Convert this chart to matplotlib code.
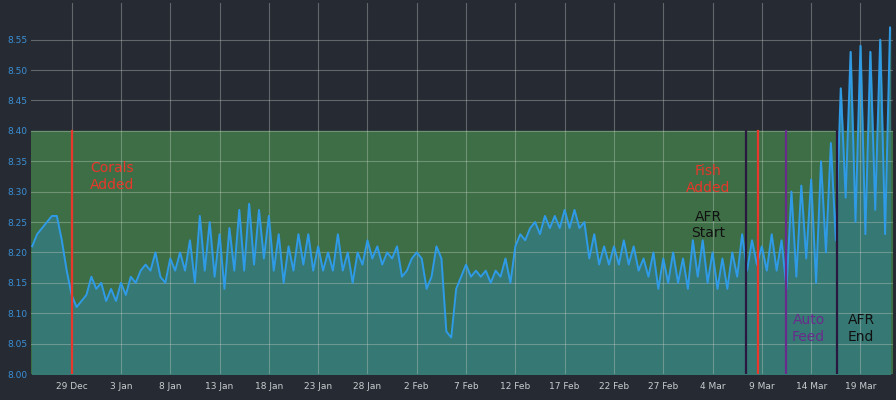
import numpy as np
import matplotlib
matplotlib.use("Agg")
import matplotlib.pyplot as plt
import matplotlib.dates as mdates
from datetime import datetime, timedelta

# pH readings, two per day starting 25 Dec
start = datetime(2018, 12, 25)
ph = [8.21, 8.23, 8.24, 8.25, 8.26, 8.26, 8.22, 8.17, 8.13, 8.11,
      8.12, 8.13, 8.16, 8.14, 8.15, 8.12, 8.14, 8.12, 8.15, 8.13,
      8.16, 8.15, 8.17, 8.18, 8.17, 8.20, 8.16, 8.15, 8.19, 8.17,
      8.20, 8.17, 8.22, 8.15, 8.26, 8.17, 8.25, 8.16, 8.23, 8.14,
      8.24, 8.17, 8.27, 8.17, 8.28, 8.18, 8.27, 8.19, 8.26, 8.17,
      8.23, 8.15, 8.21, 8.17, 8.23, 8.18, 8.23, 8.17, 8.21, 8.17,
      8.20, 8.17, 8.23, 8.17, 8.20, 8.15, 8.20, 8.18, 8.22, 8.19,
      8.21, 8.18, 8.20, 8.19, 8.21, 8.16, 8.17, 8.19, 8.20, 8.19,
      8.14, 8.16, 8.21, 8.19, 8.07, 8.06, 8.14, 8.16, 8.18, 8.16,
      8.17, 8.16, 8.17, 8.15, 8.17, 8.16, 8.19, 8.15, 8.21, 8.23,
      8.22, 8.24, 8.25, 8.23, 8.26, 8.24, 8.26, 8.24, 8.27, 8.24,
      8.27, 8.24, 8.25, 8.19, 8.23, 8.18, 8.21, 8.18, 8.21, 8.18,
      8.22, 8.18, 8.21, 8.17, 8.19, 8.16, 8.20, 8.14, 8.19, 8.15,
      8.20, 8.15, 8.19, 8.14, 8.22, 8.16, 8.22, 8.15, 8.20, 8.14,
      8.19, 8.14, 8.20, 8.16, 8.23, 8.17, 8.22, 8.18, 8.21, 8.17,
      8.23, 8.17, 8.22, 8.14, 8.30, 8.16, 8.31, 8.19, 8.32, 8.15,
      8.35, 8.20, 8.38, 8.22, 8.47, 8.29, 8.53, 8.25, 8.54, 8.23,
      8.53, 8.27, 8.55, 8.23, 8.57]
dates = [start + timedelta(hours=12 * i) for i in range(len(ph))]

events = [(datetime(2018, 12, 29), "#e8372b"),
          (datetime(2019, 3, 7, 10), "#2a1840"),
          (datetime(2019, 3, 8, 14), "#e8372b"),
          (datetime(2019, 3, 11, 10), "#6a2c8c"),
          (datetime(2019, 3, 16, 16), "#2a1840")]
labels = [("Corals\nAdded", "#e8372b", datetime(2019, 1, 2, 2), 8.325),
          ("Fish\nAdded", "#e8372b", datetime(2019, 3, 3, 14), 8.32),
          ("AFR\nStart", "#111111", datetime(2019, 3, 3, 14), 8.245),
          ("Auto\nFeed", "#6a2c8c", datetime(2019, 3, 13, 18), 8.075),
          ("AFR\nEnd", "#111111", datetime(2019, 3, 19, 2), 8.075)]

bg = "#262b33"
fig = plt.figure(figsize=(8.96, 4), dpi=100, facecolor=bg)
ax = fig.add_axes([0.035, 0.065, 0.962, 0.927], facecolor=bg)

x0, x1 = datetime(2018, 12, 24, 22), datetime(2019, 3, 22, 8)
ax.axhspan(8.0, 8.40, color="#3d6e45", zorder=0)
ax.fill_between(dates, 8.0, ph, color="#367873", zorder=1)
ax.plot(dates, ph, color="#2f9ae6", lw=1.4, zorder=3)

for d, c in events:
    ax.plot([d, d], [8.0, 8.40], color=c, lw=1.6, zorder=4)
for txt, c, tx, ty in labels:
    ax.text(tx, ty, txt, color=c, fontsize=10, ha="center", va="center",
            linespacing=1.2, zorder=6)

ax.set_xlim(x0, x1)
ax.set_ylim(8.0, 8.61)
ax.set_yticks(np.arange(8.0, 8.56, 0.05))
ax.yaxis.set_major_formatter(matplotlib.ticker.FormatStrFormatter("%.2f"))
ticks = [datetime(2018, 12, 29) + timedelta(days=5 * i) for i in range(17)]
ax.set_xticks(ticks)
ax.xaxis.set_major_formatter(mdates.DateFormatter("%-d %b"))
ax.grid(color="#cfd6cf", alpha=0.35, lw=0.8, zorder=2)
ax.set_axisbelow(False)
for s in ax.spines.values():
    s.set_visible(False)
ax.tick_params(axis="y", colors="#3a8fd6", labelsize=6.5, length=0, pad=3)
ax.tick_params(axis="x", colors="#c8ccd0", labelsize=6.5, length=0, pad=6)

fig.savefig("out.png", dpi=100, facecolor=bg)
